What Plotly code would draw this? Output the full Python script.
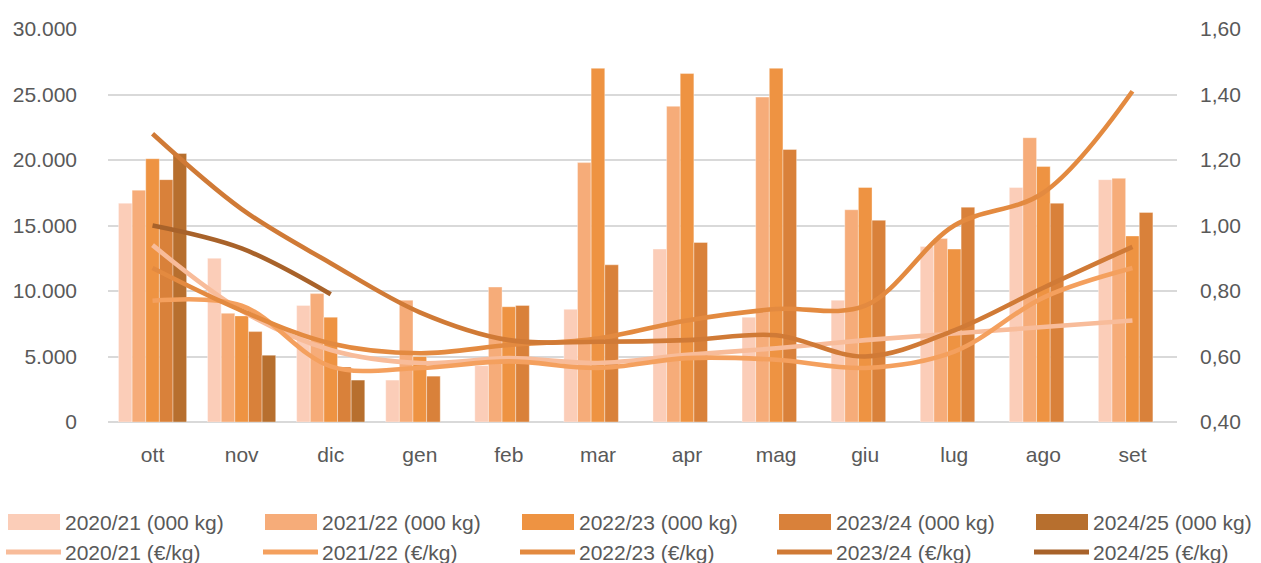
import plotly.graph_objects as go

months = ['ott', 'nov', 'dic', 'gen', 'feb', 'mar', 'apr', 'mag', 'giu', 'lug', 'ago', 'set']
seasons = ['2020/21', '2021/22', '2022/23', '2023/24', '2024/25']

q_2020 = [16700, 12500, 8900, 3200, 4300, 8600, 13200, 8000, 9300, 13400, 17900, 18500]
q_2021 = [17700, 8300, 9800, 9300, 10300, 19800, 24100, 24800, 16200, 14000, 21700, 18600]
q_2022 = [20100, 8100, 8000, 5000, 8800, 27000, 26600, 27000, 17900, 13200, 19500, 14200]
q_2023 = [18500, 6900, 4200, 3500, 8900, 12000, 13700, 20800, 15400, 16400, 16700, 16000]
q_2024 = [20500, 5100, 3200, None, None, None, None, None, None, None, None, None]

p_2020 = [0.94, 0.74, 0.62, 0.58, 0.595, 0.58, 0.605, 0.625, 0.65, 0.67, 0.69, 0.71]
p_2021 = [0.77, 0.755, 0.57, 0.565, 0.585, 0.565, 0.595, 0.59, 0.565, 0.615, 0.78, 0.87]
p_2022 = [0.87, 0.74, 0.64, 0.61, 0.635, 0.655, 0.71, 0.745, 0.755, 1.00, 1.10, 1.41]
p_2023 = [1.28, 1.05, 0.885, 0.735, 0.65, 0.645, 0.65, 0.665, 0.60, 0.68, 0.81, 0.935]
p_2024 = [1.00, 0.93, 0.79, None, None, None, None, None, None, None, None, None]

y_ticks = [0, 5000, 10000, 15000, 20000, 25000, 30000]
y2_ticks = [0.4, 0.6, 0.8, 1.0, 1.2, 1.4, 1.6]

bar_colors = ['#FBCDB8', '#F6AC79', '#EE9342', '#D9813A', '#B76F2E']
line_colors = ['#F8BC9A', '#F4A05E', '#E38A40', '#D07A36', '#A8622A']

quantities = [q_2020, q_2021, q_2022, q_2023, q_2024]
prices = [p_2020, p_2021, p_2022, p_2023, p_2024]

W, H = 1261, 563
L, R, T, B = 108, 1177, 29, 422
FONT = 'Liberation Sans, Arial, sans-serif'
TXT = '#595959'

fig = go.Figure()
for s, q, c in zip(seasons, quantities, bar_colors):
    fig.add_trace(go.Bar(x=months, y=q, name=f'{s} (000 kg)', marker_color=c,
                         marker_line_width=0.6, marker_line_color='rgba(255,255,255,0.6)',
                         showlegend=False))
for s, p, c in zip(seasons, prices, line_colors):
    fig.add_trace(go.Scatter(x=months, y=p, name=f'{s} (€/kg)', yaxis='y2', mode='lines',
                             line=dict(color=c, width=4.6, shape='spline', smoothing=1),
                             showlegend=False))

def px_x(page_x):
    return (page_x - L) / (R - L)

def px_y(page_y):
    return (B - page_y) / (B - T)

shapes = []
annotations = []
col_x = [8, 265, 522, 779, 1036]
for i, s in enumerate(seasons):
    x0 = col_x[i]
    shapes.append(dict(type='rect', xref='paper', yref='paper',
                       x0=px_x(x0), x1=px_x(x0 + 52), y0=px_y(530), y1=px_y(514),
                       fillcolor=bar_colors[i], line_width=0, layer='above'))
    annotations.append(dict(xref='paper', yref='paper', x=px_x(x0 + 55), y=px_y(522),
                            xanchor='left', yanchor='middle', showarrow=False,
                            text=f'{s} (000 kg)', font=dict(family=FONT, size=21, color=TXT)))
    shapes.append(dict(type='line', xref='paper', yref='paper',
                       x0=px_x(x0 - 2), x1=px_x(x0 + 53), y0=px_y(552), y1=px_y(552),
                       line=dict(color=line_colors[i], width=5), layer='above'))
    annotations.append(dict(xref='paper', yref='paper', x=px_x(x0 + 55), y=px_y(552),
                            xanchor='left', yanchor='middle', showarrow=False,
                            text=f'{s} (€/kg)', font=dict(family=FONT, size=21, color=TXT)))

fig.update_layout(
    width=W, height=H,
    margin=dict(l=L, r=W - R, t=T, b=H - B, pad=0),
    paper_bgcolor='white', plot_bgcolor='white',
    separators=',.',
    barmode='group', bargap=0.235, bargroupgap=0,
    font=dict(family=FONT, size=21, color=TXT),
    xaxis=dict(showgrid=False, showline=False, zeroline=False, ticks='',
               ticklabelstandoff=18, tickfont=dict(size=21, color=TXT)),
    yaxis=dict(range=[0, 30000], tickvals=y_ticks, tickformat=',.0f',
               showgrid=True, gridcolor='#D9D9D9', gridwidth=1.6,
               zeroline=True, zerolinecolor='#D9D9D9', zerolinewidth=1.6,
               showline=False, ticks='', ticklabelstandoff=30,
               tickfont=dict(size=21, color=TXT)),
    yaxis2=dict(range=[0.4, 1.6], tickvals=y2_ticks, tickformat='.2f',
                overlaying='y', side='right', showgrid=False, zeroline=False,
                showline=False, ticks='', ticklabelstandoff=22,
                tickfont=dict(size=21, color=TXT)),
    shapes=shapes, annotations=annotations,
    showlegend=False,
)

fig.write_html('out.html', config={'displayModeBar': False},
               post_script="document.body.style.margin='0';document.body.style.overflow='hidden';")
